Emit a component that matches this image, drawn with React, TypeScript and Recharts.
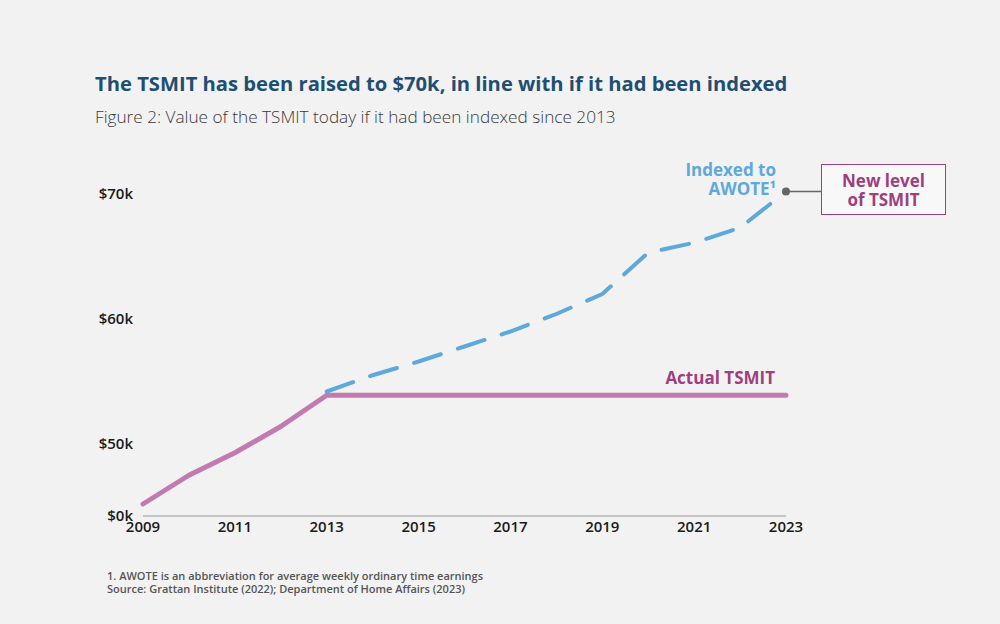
import { LineChart, Line, XAxis, YAxis, ReferenceDot } from 'recharts';

const years = [2009, 2010, 2011, 2012, 2013, 2014, 2015, 2016, 2017, 2018, 2019, 2020, 2021, 2022, 2023];
const actualTsmit = [45.2, 47.5, 49.3, 51.4, 53.9, 53.9, 53.9, 53.9, 53.9, 53.9, 53.9, 53.9, 53.9, 53.9, 53.9];
const indexedAwote = [null, null, null, null, 54.2, 55.5, 56.6, 57.8, 59.0, 60.4, 62.0, 65.3, 66.1, 67.3, 70.2];

const xTicks = [2009, 2011, 2013, 2015, 2017, 2019, 2021, 2023];
const yTicks = [44.24, 50, 60, 70];
const yTickLabels = ['$0k', '$50k', '$60k', '$70k'];

const data = years.map((year, i) => ({ year, actual: actualTsmit[i], indexed: indexedAwote[i] }));

const FONT = '"Open Sans", "DejaVu Sans", sans-serif';
const BLUE = '#5fa8dc';
const PURPLE = '#c27bb1';
const PURPLE_TEXT = '#9e3f80';

// grey dot on the last indexed point with a short connector to the box
const EndMarker = (props: { cx?: number; cy?: number }) => {
  const { cx = 0, cy = 0 } = props;
  return (
    <g>
      <line x1={cx} y1={cy} x2={cx + 35} y2={cy} stroke="#666" strokeWidth={1.5} />
      <circle cx={cx} cy={cy} r={4} fill="#666" />
    </g>
  );
};

export default function App() {
  return (
    <div style={{ position: 'absolute', left: 0, top: 0, width: 1000, height: 624, background: '#f2f2f2', fontFamily: FONT }}>
      <div style={{ position: 'absolute', left: 95, top: 69, fontSize: 20.2, fontWeight: 700, color: '#1e4f72', whiteSpace: 'nowrap' }}>
        The TSMIT has been raised to $70k, in line with if it had been indexed
      </div>
      <div style={{ position: 'absolute', left: 95, top: 105, fontSize: 17.2, fontWeight: 300, color: '#3a3a3a', whiteSpace: 'nowrap' }}>
        Figure 2: Value of the TSMIT today if it had been indexed since 2013
      </div>

      <div style={{ position: 'absolute', top: 0, left: 0 }}>
        <LineChart width={1000} height={624} data={data} margin={{ top: 169, right: 214, bottom: 78, left: 103 }}>
          <XAxis
            dataKey="year"
            type="number"
            domain={[2009, 2023]}
            ticks={xTicks}
            tickSize={0}
            tickMargin={5}
            axisLine={{ stroke: '#c4c4c4', strokeWidth: 2 }}
            tick={{ fontSize: 15, fontWeight: 600, fill: '#1a1a1a', fontFamily: FONT }}
            height={30}
          />
          <YAxis
            type="number"
            domain={[44.24, 72]}
            ticks={yTicks}
            tickFormatter={(v: number) => yTickLabels[yTicks.indexOf(v)]}
            tickSize={0}
            tickMargin={10}
            axisLine={false}
            width={40}
            tick={{ fontSize: 15, fontWeight: 600, fill: '#1a1a1a', fontFamily: FONT }}
          />
          <Line
            dataKey="actual"
            stroke={PURPLE}
            strokeWidth={5}
            dot={false}
            strokeLinecap="round"
            strokeLinejoin="round"
            isAnimationActive={false}
          />
          <Line
            dataKey="indexed"
            stroke={BLUE}
            strokeWidth={4}
            strokeDasharray="28 18"
            strokeLinecap="round"
            dot={false}
            connectNulls={false}
            isAnimationActive={false}
          />
          <ReferenceDot x={years[years.length - 1]} y={indexedAwote[indexedAwote.length - 1] as number} shape={<EndMarker />} />
        </LineChart>
      </div>

      <div style={{ position: 'absolute', right: 224, top: 160, textAlign: 'right', fontSize: 17, fontWeight: 700, color: BLUE, lineHeight: '19px' }}>
        Indexed to
        <br />
        AWOTE¹
      </div>
      <div style={{ position: 'absolute', right: 225, top: 366, fontSize: 17, fontWeight: 700, color: PURPLE_TEXT, whiteSpace: 'nowrap' }}>
        Actual TSMIT
      </div>
      <div
        style={{
          position: 'absolute',
          left: 821,
          top: 164,
          width: 125,
          height: 51,
          border: `1.5px solid ${PURPLE_TEXT}`,
          background: '#f8f8f8',
          color: PURPLE_TEXT,
          fontSize: 17,
          fontWeight: 700,
          textAlign: 'center',
          lineHeight: '19px',
          paddingTop: 6,
          boxSizing: 'border-box',
        }}
      >
        New level
        <br />
        of TSMIT
      </div>

      <div style={{ position: 'absolute', left: 107, top: 569, fontSize: 11, fontWeight: 600, color: '#555', lineHeight: '13px', whiteSpace: 'nowrap' }}>
        1. AWOTE is an abbreviation for average weekly ordinary time earnings
        <br />
        Source: Grattan Institute (2022); Department of Home Affairs (2023)
      </div>
    </div>
  );
}
